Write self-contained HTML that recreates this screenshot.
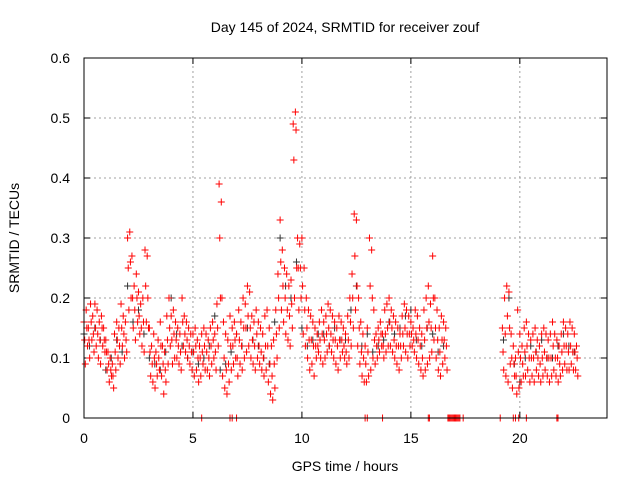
<!DOCTYPE html>
<html><head><meta charset="utf-8"><style>
body{margin:0;background:#fff;}
svg{display:block;font-family:"Liberation Sans",sans-serif;}
</style></head><body>
<svg id="chart" width="640" height="480" viewBox="0 0 640 480" xmlns="http://www.w3.org/2000/svg">
<rect width="640" height="480" fill="#fff"/>
<text x="345" y="32" text-anchor="middle" font-size="14" fill="#000">Day 145 of 2024, SRMTID for receiver zouf</text>
<text x="345" y="471" text-anchor="middle" font-size="14" fill="#000">GPS time / hours</text>
<text transform="translate(19,238) rotate(-90)" text-anchor="middle" font-size="14" fill="#000">SRMTID / TECUs</text>
<g id="grid"></g>
<g id="ticks"></g>
<g id="marks"></g>
<rect x="84" y="58" width="523" height="360" fill="none" stroke="#000" stroke-width="1"/>
</svg>
<script>
const xTicks=[0,5,10,15,20];
const yTicks=[0,0.1,0.2,0.3,0.4,0.5,0.6];
const yTickLabels=["0","0.1","0.2","0.3","0.4","0.5","0.6"];
const redTimesStart=0;
const redA=[.16,.18,.15,.19,.17,.19,.18,.16,.17,.15,
.13,.11,.1,.09,.14,.16,.15,.19,.17,.16,
.30,.31,.27,.22,.24,.21,.19,.2,.28,.27,
.15,.12,.14,.11,.13,.16,.12,.11,.17,.2,
.17,.18,.16,.15,.14,.2,.17,.16,.15,.14,
.14,.15,.13,.12,.14,.15,.14,.13,.15,.16,
.14,.19,.39,.36,.16,.14,.13,.17,.15,.16,
.14,.18,.16,.2,.19,.22,.21,.17,.16,.18,
.16,.15,.14,.17,.18,.15,.12,.13,.18,.24,
.33,.28,.25,.24,.22,.23,.49,.51,.3,.29,
.3,.25,.2,.18,.17,.16,.15,.14,.16,.18,
.16,.17,.19,.18,.17,.16,.15,.17,.16,.15,
.14,.17,.2,.24,.34,.33,.2,.16,.14,.12,
.15,.3,.28,.18,.14,.15,.16,.14,.18,.19,
.2,.18,.17,.16,.15,.14,.17,.19,.18,.17,
.16,.15,.18,.17,.15,.14,.18,.2,.22,.19,
.27,.2,.18,.15,.17,.16,.15];
const redM=[.13,.15,.13,.16,.14,.15,.14,.13,.15,.13,
.11,.09,.08,.07,.11,.13,.12,.15,.14,.13,
.25,.26,.2,.18,.2,.17,.15,.16,.22,.2,
.11,.09,.1,.09,.1,.12,.09,.08,.13,.15,
.13,.14,.13,.12,.11,.16,.14,.13,.12,.11,
.11,.12,.1,.1,.11,.12,.11,.1,.12,.13,
.11,.15,.3,.2,.1,.08,.09,.12,.12,.13,
.1,.13,.12,.15,.15,.17,.15,.13,.12,.14,
.12,.11,.1,.12,.12,.09,.07,.09,.14,.2,
.26,.22,.2,.18,.17,.19,.43,.48,.25,.25,
.22,.18,.15,.13,.13,.12,.12,.12,.13,.14,
.13,.14,.15,.14,.13,.13,.12,.13,.13,.12,
.11,.13,.16,.2,.27,.22,.15,.11,.1,.09,
.11,.22,.2,.13,.12,.13,.14,.12,.14,.15,
.16,.15,.13,.12,.12,.12,.14,.15,.14,.14,
.14,.13,.14,.13,.12,.1,.13,.15,.16,.15,
.2,.15,.13,.11,.13,.13,.12];
const redB=[.09,.12,.1,.13,.11,.12,.1,.09,.12,.11,
.08,.06,.07,.05,.08,.1,.09,.12,.1,.11,
.18,.2,.15,.13,.16,.14,.12,.11,.16,.15,
.07,.06,.05,.07,.08,.07,.04,.06,.09,.12,
.09,.1,.1,.09,.08,.12,.11,.1,.09,.08,
.07,.08,.06,.07,.09,.08,.08,.07,.09,.1,
.08,.12,.2,.07,.05,.04,.06,.08,.09,.1,
.07,.09,.08,.1,.11,.12,.1,.09,.08,.1,
.09,.08,.07,.08,.06,.04,.03,.05,.1,.15,
.18,.16,.14,.13,.12,.15,.2,.25,.18,.2,
.14,.12,.1,.08,.09,.07,.1,.11,.1,.09,
.1,.11,.12,.11,.1,.09,.08,.1,.11,.1,
.09,.1,.12,.15,.18,.12,.09,.07,.06,.06,
.07,.08,.1,.09,.1,.11,.12,.1,.11,.12,
.12,.11,.1,.09,.08,.1,.12,.11,.1,.12,
.12,.11,.1,.09,.08,.07,.08,.09,.1,.11,
.13,.1,.08,.07,.09,.1,.08];
const red2TimesStart=19.2;
const red2A=[.15,.2,.22,.21,.14,.12,.1,.18,.14,.12,.15,.16,.14,.13,.14,.15,.13,.12,.14,.15,.14,.13,.14,.16,.14,.13,.12,.14,.16,.15,.14,.16,.15,.14,.12];
const red2M=[.11,.14,.17,.15,.1,.09,.07,.11,.1,.09,.11,.12,.1,.1,.1,.11,.1,.09,.1,.11,.1,.1,.1,.12,.1,.1,.09,.11,.12,.12,.11,.12,.11,.11,.1];
const red2B=[.08,.07,.06,.09,.05,.07,.04,.05,.06,.07,.07,.08,.06,.07,.06,.08,.07,.06,.07,.08,.07,.06,.07,.08,.07,.06,.07,.08,.09,.08,.08,.09,.08,.08,.07];
const blackTimes=[0,.25,.5,.75,1,1.25,1.5,1.75,2,2.25,2.5,2.75,3,3.25,3.5,3.75,4,4.25,4.5,4.75,5,5.25,5.5,5.75,6,6.25,6.5,6.75,7,7.25,7.5,7.75,8,8.25,8.5,8.75,9,9.25,9.5,9.75,10,10.25,10.5,10.75,11,11.25,11.5,11.75,12,12.25,12.5,12.75,13,13.25,13.5,13.75,14,14.25,14.5,14.75,15,15.25,15.5,15.75,16,16.25,16.5,19.25,19.5,19.75,20,20.25,20.5,20.75,21,21.25,21.5,21.75,22,22.25,22.5];
const blackValues=[.14,.12,.15,.13,.08,.1,.13,.11,.22,.16,.18,.14,.1,.09,.08,.11,.2,.14,.12,.1,.11,.09,.1,.12,.17,.08,.09,.11,.14,.12,.15,.13,.12,.1,.09,.16,.3,.22,.2,.26,.15,.12,.13,.14,.14,.12,.15,.13,.13,.18,.22,.12,.14,.11,.12,.13,.16,.14,.15,.17,.18,.13,.12,.15,.14,.11,.12,.13,.2,.09,.06,.1,.12,.11,.13,.1,.1,.12,.14,.12,.11];
const zeroTimes=[5.4,6.7,6.8,7.0,12.9,13.0,13.7,15.8,15.85,16.7,16.75,16.8,16.85,16.9,16.95,17.0,17.05,17.1,17.15,17.2,17.25,17.4,19.1,19.7,19.8,19.95,20.3,21.7,21.75];

const X0=84,X1=607,Y0=418,Y1=58,XMAX=24,YMAX=0.6;
const xs=t=>X0+(X1-X0)*t/XMAX;
const ys=v=>Y0-(Y0-Y1)*v/YMAX;
const NS="http://www.w3.org/2000/svg";
const grid=document.getElementById('grid'),ticks=document.getElementById('ticks'),marks=document.getElementById('marks');
function mk(tag,attrs,parent){const e=document.createElementNS(NS,tag);for(const k in attrs)e.setAttribute(k,attrs[k]);parent.appendChild(e);return e;}
xTicks.forEach(t=>{
  const x=xs(t);
  if(t>0){const g=mk('line',{x1:x,x2:x,y1:Y0,y2:Y1,stroke:'#a0a0a0','stroke-dasharray':'2,3'},grid);
  
  }
  const tk=mk('path',{d:`M${x},${Y0}v-6M${x},${Y1}v6`,stroke:'#000'},ticks);
  
  
  const l=mk('text',{x:x,y:443,'text-anchor':'middle','font-size':14},ticks);l.textContent=t;
  
  
});
yTicks.forEach((v,i)=>{
  const y=ys(v);
  if(v>0&&v<YMAX){const g=mk('line',{x1:X0,x2:X1,y1:y,y2:y,stroke:'#a0a0a0','stroke-dasharray':'2,3'},grid);
  
  }
  const tk=mk('path',{d:`M${X0},${y}h6M${X1},${y}h-6`,stroke:'#000'},ticks);
  
  
  const l=mk('text',{x:70,y:y+5,'text-anchor':'end','font-size':14},ticks);l.textContent=yTickLabels[i];
  
  
});
function plus(t,v,color){
  const x=xs(t),y=ys(v);
  const p=mk('path',{d:`M${x-3.5},${y}h7M${x},${y-3.5}v7`,stroke:color,'stroke-width':1},marks);
  
  
}
blackTimes.forEach((t,i)=>plus(t,blackValues[i],'#333'));
redA.forEach((v,i)=>plus(redTimesStart+i*0.1,v,'#f00'));
redM.forEach((v,i)=>plus(redTimesStart+i*0.1+0.03,v,'#f00'));
redB.forEach((v,i)=>plus(redTimesStart+i*0.1+0.06,v,'#f00'));
red2A.forEach((v,i)=>plus(red2TimesStart+i*0.1,v,'#f00'));
red2M.forEach((v,i)=>plus(red2TimesStart+i*0.1+0.03,v,'#f00'));
red2B.forEach((v,i)=>plus(red2TimesStart+i*0.1+0.06,v,'#f00'));
zeroTimes.forEach(t=>plus(t,0,'#f00'));
</script>
</body></html>
